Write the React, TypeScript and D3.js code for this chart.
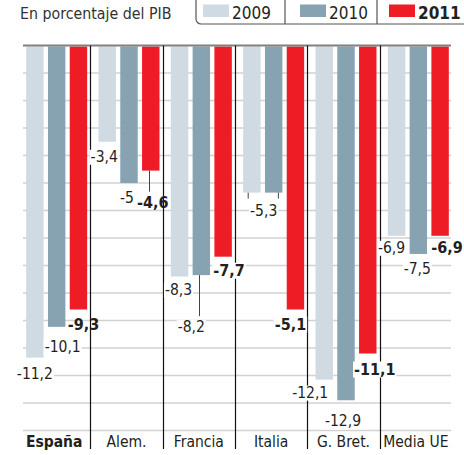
import React, { useRef, useEffect } from "react";
import * as d3 from "d3";

const categories = ["España", "Alem.", "Francia", "Italia", "G. Bret.", "Media UE"];
const years = ["2009", "2010", "2011"];
const colors = ["#cfdae2", "#87a2b0", "#ee1c25"];

// bar lengths
const values2009 = [-11.35, -3.5, -8.4, -5.35, -12.15, -6.92];
const values2010 = [-10.23, -5.0, -8.35, -5.35, -12.9, -7.58];
const values2011 = [-9.6, -4.55, -7.68, -9.6, -11.2, -6.92];

// printed labels
const labels2009 = ["-11,2", "-3,4", "-8,3", "", "-12,1", "-6,9"];
const labels2010 = ["-10,1", "-5", "-8,2", "-5,3", "-12,9", "-7,5"];
const labels2011 = ["-9,3", "-4,6", "-7,7", "-5,1", "-11,1", "-6,9"];

const W = 464;
const H = 455;
const FONT = "'DejaVu Sans Condensed', 'DejaVu Sans', sans-serif";

// label nudges: [dx from bar centre, dy from bar end, leader, bg]
const nudges = [
  [[0, 21, 0, 1], [-3, 20, 0, 1], [-1, 18, 0, 1], [0, 0, 0, 0], [-14, 18, 0, 1], [-5, 17, 0, 1]],
  [[6, 25, 0, 1], [-2, 20, 0, 1], [-10, 57, 1, 1], [-10, 23, 0, 1], [-3, 26, 0, 1], [-1, 20, 0, 1]],
  [[5, 20, 0, 0], [2, 37, 1, 0], [6, 19, 0, 1], [-5, 20, 0, 1], [7, 21, 0, 1], [7, 17, 0, 1]],
];

function App() {
  const svgRef = useRef(null);

  useEffect(() => {
    const svg = d3.select(svgRef.current);
    svg.selectAll("*").remove();

    const series = [values2009, values2010, values2011];
    const labels = [labels2009, labels2010, labels2011];

    const x = d3.scaleBand().domain(categories).range([18, 452]).padding(0);
    const xs = d3
      .scaleBand()
      .domain(years)
      .range([6, x.bandwidth() - 1])
      .paddingInner(0.2)
      .paddingOuter(0.1);
    const y = d3.scaleLinear().domain([0, -14]).range([45.5, 430.5]);

    // title
    svg
      .append("text")
      .attr("x", 20)
      .attr("y", 19)
      .attr("font-family", FONT)
      .attr("font-size", 15.8)
      .attr("fill", "#333")
      .text("En porcentaje del PIB");

    // legend
    const lg = svg.append("g");
    lg.append("rect")
      .attr("x", 196)
      .attr("y", -10)
      .attr("width", 272)
      .attr("height", 34)
      .attr("rx", 5)
      .attr("fill", "none")
      .attr("stroke", "#555")
      .attr("stroke-width", 1.2);
    const legX = [203, 300, 389];
    [285, 377].forEach((d) => {
      lg.append("line")
        .attr("x1", d)
        .attr("x2", d)
        .attr("y1", 0)
        .attr("y2", 24)
        .attr("stroke", "#555")
        .attr("stroke-width", 1.2);
    });
    years.forEach((yr, i) => {
      lg.append("rect")
        .attr("x", legX[i])
        .attr("y", 4.5)
        .attr("width", 26)
        .attr("height", 12.5)
        .attr("fill", colors[i]);
      lg.append("text")
        .attr("x", legX[i] + 29)
        .attr("y", 18.5)
        .attr("font-family", FONT)
        .attr("font-size", 17)
        .attr("font-weight", i === 2 ? "bold" : "normal")
        .attr("fill", "#231f20")
        .text(yr);
    });

    // gridlines
    svg
      .append("g")
      .selectAll("line")
      .data(d3.range(-1, -15, -1))
      .join("line")
      .attr("x1", 23)
      .attr("x2", 451)
      .attr("y1", (d) => y(d))
      .attr("y2", (d) => y(d))
      .attr("stroke", "#d2d2d2")
      .attr("stroke-width", 1.5);

    // bars
    years.forEach((yr, si) => {
      svg
        .append("g")
        .selectAll("rect")
        .data(series[si])
        .join("rect")
        .attr("x", (d, i) => x(categories[i]) + xs(yr))
        .attr("y", y(0) + 1)
        .attr("width", xs.bandwidth())
        .attr("height", (d) => y(d) - y(0) - 1)
        .attr("fill", colors[si]);
    });

    // top baseline
    svg
      .append("line")
      .attr("x1", 23)
      .attr("x2", 451)
      .attr("y1", y(0))
      .attr("y2", y(0))
      .attr("stroke", "#808080")
      .attr("stroke-width", 2);

    // separators
    svg
      .append("g")
      .selectAll("line")
      .data(categories.slice(1))
      .join("line")
      .attr("x1", (d) => Math.round(x(d)) + 0.5)
      .attr("x2", (d) => Math.round(x(d)) + 0.5)
      .attr("y1", y(0))
      .attr("y2", 449)
      .attr("stroke", "#111")
      .attr("stroke-width", 1.2);

    // leader lines + bracket
    years.forEach((yr, si) => {
      series[si].forEach((v, i) => {
        const n = nudges[si][i];
        if (!n[2]) return;
        const cx = Math.round(x(categories[i]) + xs(yr) + xs.bandwidth() / 2 - 2) + 0.5;
        svg
          .append("line")
          .attr("x1", cx)
          .attr("x2", cx)
          .attr("y1", y(v))
          .attr("y2", y(v) + n[1] - 16)
          .attr("stroke", "#444")
          .attr("stroke-width", 1);
      });
    });
    const it = x("Italia");
    const bx1 = it + xs("2009") + 5;
    const bx2 = it + xs("2010") + xs.bandwidth() - 4;
    [bx1, bx2].forEach((bx) => {
      svg
        .append("line")
        .attr("x1", bx)
        .attr("x2", bx)
        .attr("y1", y(values2009[3]))
        .attr("y2", y(values2009[3]) + 6)
        .attr("stroke", "#444")
        .attr("stroke-width", 1);
    });

    // value labels
    years.forEach((yr, si) => {
      series[si].forEach((v, i) => {
        const txt = labels[si][i];
        if (!txt) return;
        const n = nudges[si][i];
        const cx = x(categories[i]) + xs(yr) + xs.bandwidth() / 2 + n[0];
        const g = svg.append("g");
        const t = g
          .append("text")
          .attr("x", cx)
          .attr("y", y(v) + n[1])
          .attr("text-anchor", "middle")
          .attr("font-family", FONT)
          .attr("font-size", si === 2 ? 16 : 15.5)
          .attr("font-weight", si === 2 ? "bold" : "normal")
          .attr("fill", "#231f20")
          .text(txt);
        if (n[3]) {
          const bb = t.node().getBBox();
          g.insert("rect", "text")
            .attr("x", bb.x - 1)
            .attr("y", bb.y + 2)
            .attr("width", bb.width + 2)
            .attr("height", bb.height - 3)
            .attr("fill", "#fff");
        }
      });
    });

    // category labels
    svg
      .append("g")
      .selectAll("text")
      .data(categories)
      .join("text")
      .attr("x", (d) => x(d) + x.bandwidth() / 2)
      .attr("y", 447)
      .attr("text-anchor", "middle")
      .attr("font-family", FONT)
      .attr("font-size", 15.5)
      .attr("font-weight", (d, i) => (i === 0 ? "bold" : "normal"))
      .attr("fill", "#231f20")
      .text((d) => d);
  }, []);

  return (
    <svg
      ref={svgRef}
      width={W}
      height={H}
      style={{ position: "absolute", left: 0, top: 0, background: "#fff" }}
    ></svg>
  );
}

export default App;
